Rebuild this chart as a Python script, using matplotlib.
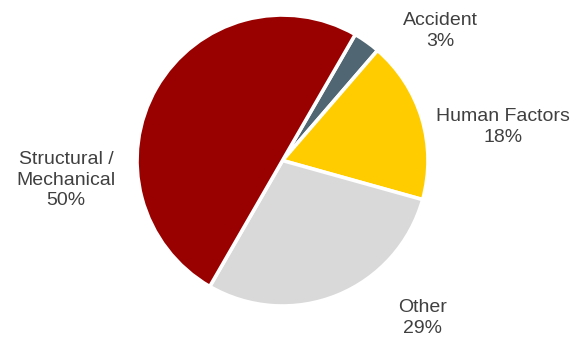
import matplotlib.pyplot as plt

plt.rcParams["font.family"] = ["Liberation Sans", "DejaVu Sans"]

categories = ["Accident", "Human Factors", "Other", "Structural /\nMechanical"]
shares = [3, 18, 29, 50]
colors = ["#506673", "#ffcc00", "#d9d9d9", "#990000"]

W, H = 584, 339
cx, cy, r = 282.5, 160.5, 145.5
# label centres in pixels (x, y from top)
label_px = [(440, 31), (503, 127), (423, 318), (66, 180)]

fig = plt.figure(figsize=(W / 100, H / 100), dpi=100)
ax = fig.add_axes([(cx - r) / W, (H - cy - r) / H, 2 * r / W, 2 * r / H])
ax.pie(shares, colors=colors, startangle=60, counterclock=False,
       wedgeprops=dict(edgecolor="white", linewidth=2.6))
ax.set_xlim(-1, 1)
ax.set_ylim(-1, 1)
ax.set_aspect("equal")

for name, val, (px, py) in zip(categories, shares, label_px):
    fig.text(px / W, 1 - py / H, f"{name}\n{val}%", ha="center", va="center",
             fontsize=14, color="#404040", linespacing=1.3)

fig.savefig("out.png", dpi=100)
